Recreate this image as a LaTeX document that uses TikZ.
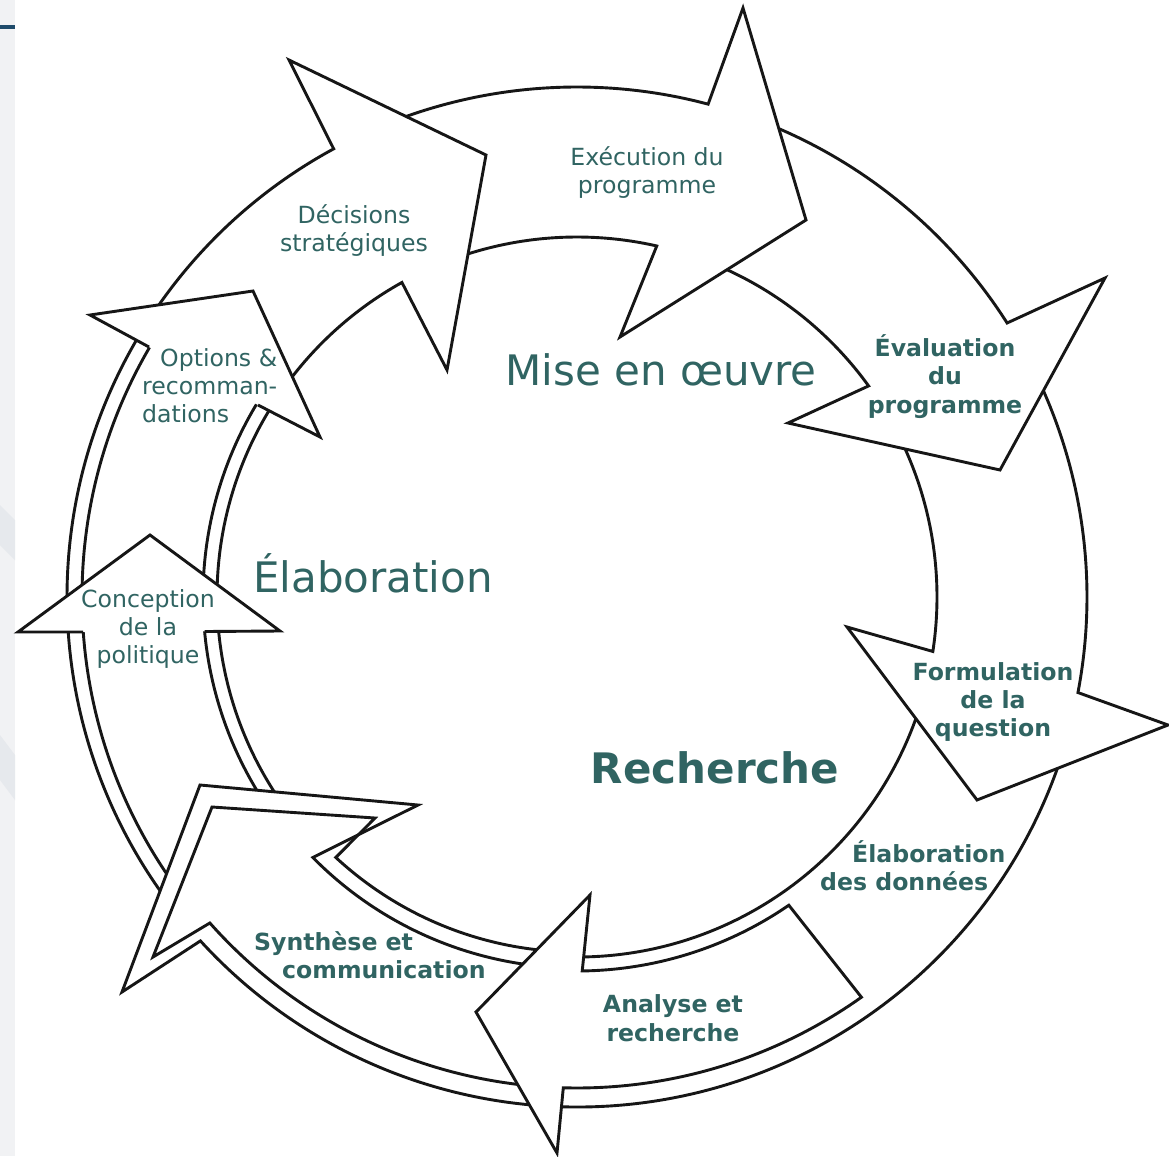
\documentclass[tikz,border=0pt]{standalone}
\usepackage{fontspec}
\setmainfont{DejaVu Sans}
\usetikzlibrary{calc}
\definecolor{txtcol}{RGB}{48,100,98}
\definecolor{lncol}{RGB}{22,22,22}
\definecolor{stripcol}{RGB}{241,242,244}
\definecolor{stripdark}{RGB}{230,233,237}
\definecolor{dashcol}{RGB}{31,75,107}
\begin{document}
\begin{tikzpicture}[x=1pt,y=-1pt,
  arr/.style={draw=lncol, line width=2.9pt, fill=white, line join=miter},
  ln/.style={draw=lncol, line width=2.9pt, line join=miter},
  lbl/.style={text=txtcol, inner sep=0pt, font=\fontsize{23.6}{28}\selectfont},
  blbl/.style={text=txtcol, inner sep=0pt, font=\fontsize{23.6}{28}\selectfont\bfseries},
  biglbl/.style={text=txtcol, inner sep=0pt, font=\fontsize{42}{50}\selectfont},
  bigblbl/.style={text=txtcol, inner sep=0pt, font=\fontsize{42}{50}\selectfont\bfseries}]
\useasboundingbox (0,0) rectangle (1169,1156);
\fill[white] (0,0) rectangle (1169,1156);
\fill[stripcol] (0,0) rectangle (15,1156);
\fill[stripdark] (0,505) -- (15,520) -- (15,560) -- (0,545) -- cycle;
\fill[stripdark] (0,735) -- (15,755) -- (15,800) -- (0,780) -- cycle;
\fill[dashcol] (0,25) rectangle (15,29);
\coordinate (C) at (577,597);

% Elaboration des donnees ring edges
\draw[ln] ($(C)+(15:510)$) arc[start angle=15,end angle=94,radius=510];
\draw[ln] ($(C)+(15:360)$) arc[start angle=15,end angle=92,radius=360];

% Formulation
\draw[arr] ($(C)+(-28:510)$) arc[start angle=-28,end angle=10.8,radius=510]
  -- (1168,725) -- (977,800) -- (847,627)
  -- ($(C)+(8.7:360)$) arc[start angle=8.7,end angle=-28,radius=360] -- cycle;

% Evaluation
\draw[arr] ($(C)+(-70:510)$) arc[start angle=-70,end angle=-32.5,radius=510]
  -- (1105,278) -- (1000,470) -- (788,423)
  -- ($(C)+(-35.9:360)$) arc[start angle=-35.9,end angle=-70,radius=360] -- cycle;

% Execution
\draw[arr] ($(C)+(-112:510)$) arc[start angle=-112,end angle=-75.1,radius=510]
  -- (743,8) -- (806,220) -- (620,337)
  -- ($(C)+(-77.2:360)$) arc[start angle=-77.2,end angle=-112,radius=360] -- cycle;

% Decisions
\draw[arr] ($(C)+(213:510)$) arc[start angle=213,end angle=241.5,radius=510]
  -- (289,60) -- (486,155) -- (447,370)
  -- ($(C)+(240.9:360)$) arc[start angle=240.9,end angle=213,radius=360] -- cycle;

% left double band
\foreach \r in {510,495,374,360}
  \draw[ln] ($(C)+(142:\r)$) arc[start angle=142,end angle=212,radius=\r];

% Conception head
\fill[white] (18,632) -- (150,535) -- (280,631) -- cycle;
\draw[ln] (83.2,632) -- (18,632) -- (150,535) -- (280,631) -- (204.6,631.5);

% Options head
\fill[white] (149,347) -- (90,315) -- (253,291) -- (320,437) -- (258,405) -- cycle;
\draw[ln] (149,347) -- (90,315) -- (253,291) -- (320,437) -- (258,405);

% Synthese (double outline)
\draw[arr] (200,785) -- (418,805)
  -- ($(C)+(135.4:371)$) arc[start angle=135.4,end angle=93,radius=371]
  -- ($(C)+(93:510)$) arc[start angle=93,end angle=137.6,radius=510]
  -- (122,992) -- cycle;
\draw[ln] ($(C)+(93:491)$) arc[start angle=93,end angle=138.4,radius=491]
  -- (153,957) -- (212,807) -- (375,818)
  -- ($(C)+(132.8:355)$) arc[start angle=132.8,end angle=93,radius=355];

% Analyse
\draw[arr] (590,895) -- (476,1012) -- (557,1153)
  -- ($(C)+(91.6:491)$) arc[start angle=91.6,end angle=54.6,radius=491]
  -- ($(C)+(55.5:374)$) arc[start angle=55.5,end angle=89.2,radius=374] -- cycle;

% labels
\node[lbl, anchor=base] (exec1) at (647,165) {Exécution du};
\node[lbl, anchor=base] (exec2) at (647,193) {programme};
\node[lbl, anchor=base] (dec1) at (354,223) {Décisions};
\node[lbl, anchor=base] (dec2) at (354,251) {stratégiques};
\node[lbl, anchor=base west] (opt1) at (160,366) {Options \&};
\node[lbl, anchor=base west] (opt2) at (142,394) {recomman-};
\node[lbl, anchor=base west] (opt3) at (142,422) {dations};
\node[lbl, anchor=base] (con1) at (148,607) {Conception};
\node[lbl, anchor=base] (con2) at (148,635) {de la};
\node[lbl, anchor=base] (con3) at (148,663) {politique};
\node[biglbl, anchor=base] (mise) at (661,385) {Mise en œuvre};
\node[biglbl, anchor=base] (elab) at (373,592) {Élaboration};
\node[blbl, anchor=base] (eva1) at (945,356) {Évaluation};
\node[blbl, anchor=base] (eva2) at (945,384) {du};
\node[blbl, anchor=base] (eva3) at (945,413) {programme};
\node[blbl, anchor=base] (for1) at (993,680) {Formulation};
\node[blbl, anchor=base] (for2) at (993,708) {de la};
\node[blbl, anchor=base] (for3) at (993,736) {question};
\node[bigblbl, anchor=base] (rech) at (715,783) {Recherche};
\node[blbl, anchor=base west] (ed1) at (852,862) {Élaboration};
\node[blbl, anchor=base west] (ed2) at (820,890) {des données};
\node[blbl, anchor=base] (an1) at (673,1012) {Analyse et};
\node[blbl, anchor=base] (an2) at (673,1041) {recherche};
\node[blbl, anchor=base west] (syn1) at (254,950) {Synthèse et};
\node[blbl, anchor=base west] (syn2) at (282,978) {communication};
\end{tikzpicture}
\end{document}
